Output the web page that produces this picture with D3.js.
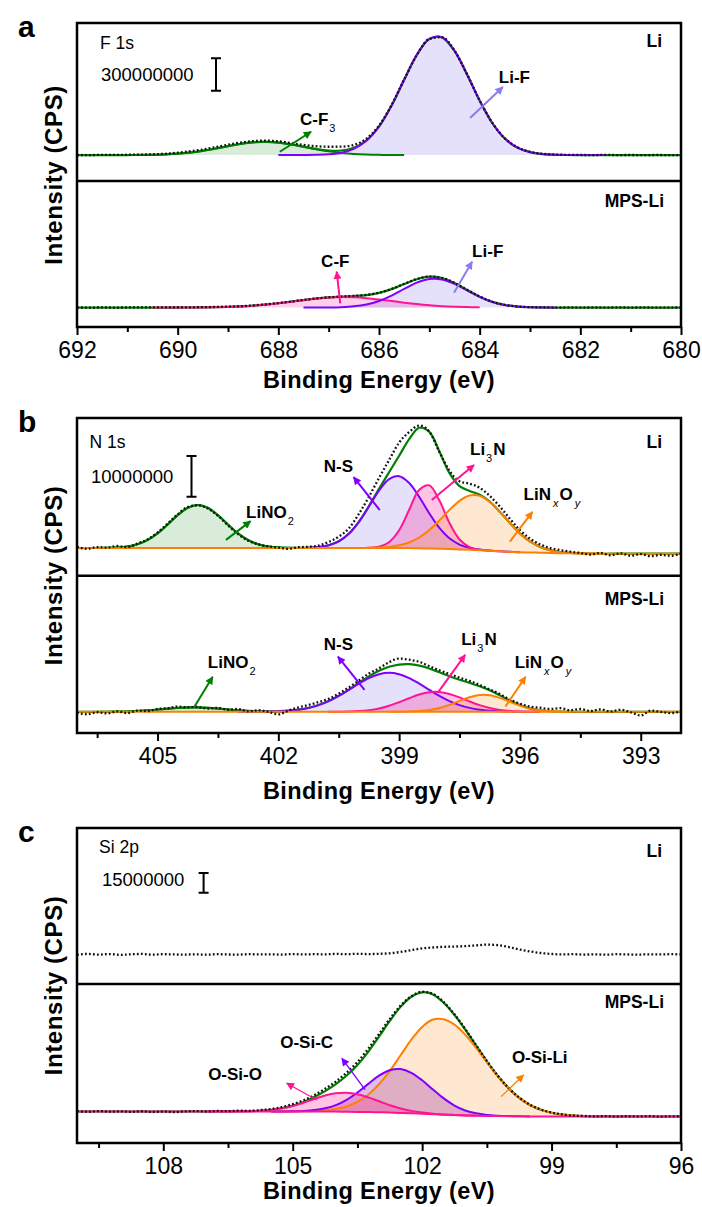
<!DOCTYPE html>
<html>
<head>
<meta charset="utf-8">
<title>XPS F 1s / N 1s / Si 2p</title>
<script src="https://cdnjs.cloudflare.com/ajax/libs/d3/7.8.5/d3.min.js"></script>
<style>
    body { margin: 0; background: #fff; }
    svg text { font-family: "Liberation Sans", Arial, sans-serif; fill: #000; }
</style>
</head>
<body>
<svg id="chart" width="702" height="1207"></svg>
<script>
/*=============== DATA (intensities in 10^6 CPS, energies in eV, 0.25 eV steps) ============*/

// energy grids, high -> low binding energy
var energyA = d3.range(692, 679.9, -0.25);
var energyB = d3.range(407, 391.9, -0.25);
var energyC = d3.range(110, 95.9, -0.25);

var ticksA = [692, 690, 688, 686, 684, 682, 680];
var minorTicksA = [691, 689, 687, 685, 683, 681];
var ticksB = [405, 402, 399, 396, 393];
var minorTicksB = [406.5, 403.5, 400.5, 397.5, 394.5];
var ticksC = [108, 105, 102, 99, 96];
var minorTicksC = [109.5, 106.5, 103.5, 100.5, 97.5];

// scale bars
var scaleBarA = 300;   // 300000000 CPS
var scaleBarB = 10;    // 10000000 CPS
var scaleBarC = 15;    // 15000000 CPS

// ---- F 1s, Li
var liBgA = 240;
var liDataA = [
    241, 240, 242, 241,
    243, 244, 247, 252,
    262, 276, 292, 313,
    336, 356, 370, 374,
    368, 352, 334, 322,
    317, 318, 334, 392,
    513, 704, 940, 1165,
    1315, 1332, 1208, 988,
    746, 540, 395, 312,
    270, 252, 245, 242,
    241, 240, 242, 240,
    241, 240, 241, 240,
    240
];
var cf3LiA = [0.4, 1.1, 2.8, 6.2, 12.7, 23.4, 39.2, 59.7, 82.6, 103.8, 118.5, 123, 115.8, 99.1, 77.1, 54.5, 34.9, 20.4, 10.8, 5.2, 2.3, 0.9, 0.3];   // from 691.0
var lifLiA = [0, 0.1, 0.6, 2.2, 7.4, 22.1, 57.7, 131.9, 263, 458.5, 697, 926.7, 1075.5, 1090, 965, 746, 504, 297, 153, 68.9, 27.1, 9.3, 2.8, 0.7, 0.2, 0, 0];   // from 688.0

// ---- F 1s, MPS-Li
var mpsBgA = 180;
var mpsDataA = [
    181, 180, 181, 180,
    181, 181, 182, 181,
    183, 182, 184, 186,
    189, 193, 200, 210,
    222, 236, 251, 264,
    275, 282, 288, 298,
    317, 352, 399, 444,
    467, 455, 409, 345,
    283, 234, 205, 190,
    184, 181, 180, 181,
    180, 181, 180, 181,
    180, 181, 180, 180,
    181
];
var cfMpsA = [0, 0.1, 0.3, 0.7, 1.6, 3.2, 6.1, 10.7, 17.7, 27.5, 40, 54.4, 69.4, 82.8, 92.5, 97, 95, 87.2, 75, 60.4, 45.6, 32.2, 21.3, 13.2, 7.7, 4.2, 2.1];   // from 690.5
var lifMpsA = [0.1, 0.3, 1.2, 3.9, 11.4, 28.4, 60.4, 110, 172, 230.5, 264.7, 260.7, 220, 159.2, 98.8, 52.5, 24, 9.3, 3.1, 0.9, 0.2];   // from 687.5

// ---- N 1s, Li
var liBgB = [
    6.8, 6.8, 6.8, 6.8,
    6.8, 6.8, 6.8, 6.8,
    6.8, 6.8, 6.8, 6.8,
    6.8, 6.8, 6.8, 6.8,
    6.8, 6.8, 6.8, 6.8,
    6.8, 6.8, 6.8, 6.8,
    6.8, 6.8, 6.8, 6.8,
    6.8, 6.8, 6.8, 6.8,
    6.8, 6.78, 6.74, 6.69,
    6.63, 6.55, 6.46, 6.37,
    6.27, 6.14, 6.0, 5.88,
    5.77, 5.71, 5.65, 5.59,
    5.53, 5.5, 5.47, 5.44,
    5.4, 5.4, 5.4, 5.4,
    5.4, 5.4, 5.4, 5.4,
    5.4
];
var liDataB = [
    7.1, 6.6, 7.0, 6.9,
    7.3, 7.0, 7.9, 8.9,
    10.6, 12.8, 15.1, 16.9,
    17.3, 16.5, 14.7, 12.4,
    10.2, 8.6, 7.7, 7.2,
    6.9, 6.6, 7.0, 7.1,
    7.4, 8.3, 9.6, 11.6,
    15.2, 19.4, 24.0, 28.4,
    32.7, 35.3, 36.9, 35.4,
    30.4, 25.8, 23.2, 22.6,
    21.6, 19.6, 17.0, 14.0,
    11.2, 9.1, 7.7, 6.8,
    6.3, 5.9, 5.6, 5.2,
    5.6, 5.0, 5.5, 4.9,
    5.3, 4.8, 5.1, 4.9,
    5.4
];
var lino2LiB = [0.01, 0.04, 0.14, 0.38, 0.92, 1.95, 3.58, 5.75, 8.06, 9.88, 10.57, 9.88, 8.06, 5.75, 3.58, 1.95, 0.92, 0.38, 0.14, 0.04, 0.01];   // from 406.5
var nsLiB = [0, 0.01, 0.02, 0.08, 0.25, 0.69, 1.66, 3.5, 6.41, 10.2, 14.08, 16.91, 17.64, 15.99, 12.59, 8.61, 5.12, 2.64, 1.19, 0.46, 0.16, 0.05, 0.01, 0, 0];   // from 402.0
var li3nLiB = [0.01, 0.05, 0.33, 1.43, 4.36, 9.41, 14.37, 15.51, 11.83, 6.38, 2.43, 0.66, 0.13, 0.02, 0];   // from 400.0
var linoLiB = [0.01, 0.04, 0.11, 0.28, 0.66, 1.39, 2.65, 4.53, 6.96, 9.62, 11.94, 13.32, 13.34, 12.01, 9.72, 7.07, 4.62, 2.71, 1.43, 0.68, 0.29, 0.11, 0.04, 0.01, 0];   // from 400.0

// ---- N 1s, MPS-Li
var mpsBgB = 5.2;
var mpsDataB = [
    5.0, 4.6, 5.1, 4.8,
    5.3, 4.9, 5.5, 5.4,
    5.9, 6.1, 6.5, 6.3,
    6.4, 6.0, 6.2, 5.7,
    5.9, 5.3, 5.6, 5.2,
    4.6, 5.5, 6.3, 6.9,
    7.6, 8.4, 9.7, 11.2,
    12.9, 14.6, 15.9, 17.4,
    18.3, 18.0, 17.5, 16.4,
    15.4, 14.5, 13.6, 12.8,
    11.8, 10.7, 9.6, 8.2,
    7.2, 6.5, 6.2, 5.9,
    6.1, 5.6, 5.9, 5.4,
    5.8, 5.3, 5.7, 5.1,
    4.3, 5.5, 5.2, 4.9,
    5.3
];
var lino2MpsB = [0.01, 0.02, 0.05, 0.11, 0.21, 0.35, 0.55, 0.77, 0.96, 1.08, 1.09, 0.99, 0.81, 0.59, 0.39, 0.23, 0.12, 0.06, 0.03, 0.01];   // from 406.5
var nsMpsB = [0, 0.01, 0.02, 0.06, 0.13, 0.27, 0.53, 0.97, 1.66, 2.64, 3.91, 5.4, 6.94, 8.3, 9.24, 9.58, 9.24, 8.3, 6.94, 5.4, 3.91, 2.64, 1.66, 0.97, 0.53, 0.27, 0.13, 0.06, 0.02, 0.01, 0];   // from 403.0
var li3nMpsB = [0.01, 0.03, 0.07, 0.19, 0.42, 0.83, 1.48, 2.36, 3.35, 4.25, 4.81, 4.87, 4.39, 3.54, 2.55, 1.64, 0.94, 0.48, 0.22, 0.09, 0.03, 0.01];   // from 400.75
var linoMpsB = [0, 0.02, 0.06, 0.18, 0.44, 0.94, 1.71, 2.68, 3.59, 4.13, 4.07, 3.43, 2.48, 1.54, 0.82, 0.37, 0.15, 0.05, 0.01];   // from 399.25

// ---- Si 2p, Li (measured only)
var liDataC = [
    22.3, 22.9, 22.4, 22.8,
    22.2, 22.6, 22.9, 22.3,
    22.7, 22.5, 22.4, 22.6,
    22.3, 22.7, 22.5, 22.4,
    22.7, 22.5, 22.6, 22.4,
    22.8, 22.5, 22.7, 22.6,
    22.9, 22.7, 23.0, 22.8,
    23.0, 23.4, 24.4, 25.8,
    27.1, 27.8, 28.3, 28.5,
    28.9, 29.4, 30.0, 29.6,
    28.2, 26.3, 24.8, 23.6,
    22.9, 22.5, 22.7, 22.4,
    22.6, 22.3, 22.7, 22.5,
    22.4, 22.6, 22.5, 22.7,
    22.5
];

// ---- Si 2p, MPS-Li
var mpsBgC = [
    24, 24, 24, 24,
    24, 24, 24, 24,
    24, 24, 24, 24,
    24, 24, 24, 24,
    24, 24, 24, 24,
    24, 24, 24, 24,
    23.9, 23.8, 23.7, 23.55,
    23.4, 23.15, 22.9, 22.6,
    22.3, 21.95, 21.6, 21.3,
    21.0, 20.8, 20.6, 20.5,
    20.4, 20.3, 20.2, 20.2,
    20.2, 20.2, 20.2, 20.2,
    20.2, 20.2, 20.2, 20.2,
    20.2, 20.2, 20.2, 20.2,
    20.2
];
var mpsDataC = [
    24.2, 23.8, 24.3, 23.9,
    24.1, 23.7, 24.2, 23.6,
    24.0, 23.5, 24.1, 24.3,
    24.0, 24.4, 24.2, 24.6,
    24.5, 25.1, 25.9, 27.4,
    29.6, 32.6, 36.4, 41.3,
    46.8, 53.6, 61.7, 71.7,
    83.0, 94.5, 104.6, 111.8,
    115.2, 113.6, 107.3, 98.0,
    86.8, 74.6, 62.5, 51.4,
    42.0, 34.6, 29.2, 25.5,
    23.2, 21.8, 20.8, 20.6,
    20.2, 20.5, 20.1, 20.4,
    20.2, 20.5, 20.1, 20.3,
    20.4
];
var osioMpsC = [0, 0.01, 0.03, 0.09, 0.23, 0.56, 1.22, 2.4, 4.23, 6.7, 9.53, 12.19, 14.01, 14.47, 13.42, 11.19, 8.38, 5.65, 3.41, 1.86, 0.91, 0.4, 0.16, 0.06, 0.02, 0.01];   // from 107.0
var osicMpsC = [0.01, 0.05, 0.15, 0.42, 1.07, 2.45, 4.99, 9.1, 14.8, 21.5, 27.89, 32.31, 33.43, 30.88, 25.47, 18.77, 12.35, 7.25, 3.8, 1.78, 0.75, 0.28, 0.09, 0.03, 0.01];   // from 105.5
var osiliMpsC = [0.01, 0.02, 0.05, 0.15, 0.37, 0.88, 1.95, 4.0, 7.54, 13.2, 21.32, 31.83, 43.93, 56.05, 66.1, 72.07, 72.7, 68.9, 61.47, 51.63, 40.83, 30.41, 21.32, 14.07, 8.75, 5.12, 2.82, 1.46, 0.72, 0.33, 0.15, 0.06, 0.02, 0.01];   // from 105.5


/*=============== STYLE ============*/

var STEP = 0.25;
var frameLeft = 77;
var frameRight = 681;

var colors = {
    green: '#008000',
    purple: '#8000ff',
    pink: '#ff1493',
    orange: '#ff8000',
    lilac: '#8a7cf0'
};

var fills = {
    green: 'rgba(0,128,0,0.15)',
    purple: 'rgba(110,90,230,0.18)',
    pink: 'rgba(255,20,147,0.2)',
    orange: 'rgba(255,128,0,0.18)',
    mauve: 'rgba(150,40,170,0.3)',
    rose: 'rgba(255,20,147,0.25)'
};

// label pieces
var LBL_CF3 = [{t: 'C-F'}, {t: '3', sub: true}];
var LBL_LIF = [{t: 'Li-F'}];
var LBL_CF = [{t: 'C-F'}];
var LBL_NS = [{t: 'N-S'}];
var LBL_LI3N = [{t: 'Li'}, {t: '3', sub: true}, {t: 'N'}];
var LBL_LINO = [{t: 'LiN'}, {t: 'x', sub: true, it: true}, {t: 'O'}, {t: 'y', sub: true, it: true}];
var LBL_LINO2 = [{t: 'LiNO'}, {t: '2', sub: true}];


/*=============== PANELS ============*/

var panels = [
    {
        letter: 'a', core: 'F 1s', coreX: 100, coreDy: 26,
        top: 23, mid: 181, bottom: 327, unitPx: 0.108, titleY: 388,
        energy: energyA, ticks: ticksA, minor: minorTicksA,
        bar: {value: scaleBarA, text: '300000000', x: 216, bottomDy: 67.7, textX: 101, textDy: 58},
        liDy: 24, mpsDy: 26,
        subs: [
            {
                data: liDataA, bg: liBgA, bgColor: null,
                comps: [
                    {start: 691, values: cf3LiA, color: 'green'},
                    {start: 688, values: lifLiA, color: 'purple'}
                ],
                notes: [
                    {label: LBL_CF3, at: [687.57, 518], from: [687.97, 271], to: [687.35, 456], color: 'green'},
                    {label: LBL_LIF, at: [683.62, 907], from: [684.19, 583], to: [683.54, 870], color: 'lilac'}
                ]
            },
            {
                data: mpsDataA, bg: mpsBgA, bgColor: null,
                comps: [
                    {start: 690.5, values: cfMpsA, color: 'pink'},
                    {start: 687.5, values: lifMpsA, color: 'purple'}
                ],
                notes: [
                    {label: LBL_CF, at: [687.15, 556], from: [686.77, 219], to: [686.84, 512], color: 'pink'},
                    {label: LBL_LIF, at: [684.15, 648], from: [684.51, 318], to: [684.15, 605], color: 'lilac'}
                ]
            }
        ]
    },
    {
        letter: 'b', core: 'N 1s', coreX: 89.5, coreDy: 30,
        top: 418, mid: 575.7, bottom: 733, unitPx: 4.07, titleY: 799,
        energy: energyB, ticks: ticksB, minor: minorTicksB,
        bar: {value: scaleBarB, text: '10000000', x: 191.5, bottomDy: 78.7, textX: 91, textDy: 65},
        liDy: 30, mpsDy: 29.3,
        subs: [
            {
                data: liDataB, bg: liBgB, bgColor: 'orange',
                comps: [
                    {start: 406.5, values: lino2LiB, color: 'green'},
                    {start: 402, values: nsLiB, color: 'purple'},
                    {start: 400, values: li3nLiB, color: 'pink', fill: 'rose'},
                    {start: 400, values: linoLiB, color: 'orange'}
                ],
                notes: [
                    {label: LBL_NS, at: [400.87, 25.5], from: [399.48, 16.1], to: [400.13, 24.2], color: 'purple'},
                    {label: LBL_LI3N, at: [397.24, 29.7], from: [398.19, 18.6], to: [397.14, 27.2], color: 'pink'},
                    {label: LBL_LINO, at: [395.91, 18.6], from: [396.25, 8.35], to: [395.69, 15.7], color: 'orange'},
                    {label: LBL_LINO2, at: [402.8, 14.2], from: [403.3, 8.8], to: [402.69, 13.4], color: 'green'}
                ]
            },
            {
                data: mpsDataB, bg: mpsBgB, bgColor: 'orange',
                comps: [
                    {start: 406.5, values: lino2MpsB, color: 'green'},
                    {start: 403, values: nsMpsB, color: 'purple'},
                    {start: 400.75, values: li3nMpsB, color: 'pink', fill: 'rose'},
                    {start: 399.25, values: linoMpsB, color: 'orange'}
                ],
                notes: [
                    {label: LBL_NS, at: [400.87, 20.4], from: [399.86, 10.6], to: [400.52, 18.75], color: 'purple'},
                    {label: LBL_LI3N, at: [397.46, 21.6], from: [398.02, 10.15], to: [397.36, 19.2], color: 'pink'},
                    {label: LBL_LINO, at: [396.13, 16.0], from: [396.36, 6.5], to: [395.86, 13.8], color: 'orange'},
                    {label: LBL_LINO2, at: [403.75, 16.0], from: [404.08, 6.5], to: [403.63, 13.8], color: 'green'}
                ]
            }
        ]
    },
    {
        letter: 'c', core: 'Si 2p', coreX: 99, coreDy: 25,
        top: 828, mid: 984, bottom: 1143, unitPx: 1.313, titleY: 1199,
        energy: energyC, ticks: ticksC, minor: minorTicksC,
        bar: {value: scaleBarC, text: '15000000', x: 203.6, bottomDy: 64.7, textX: 102, textDy: 58},
        liDy: 29, mpsDy: 24,
        subs: [
            {data: liDataC, bg: 22.5, bgColor: null, comps: [], notes: []},
            {
                data: mpsDataC, bg: mpsBgC, bgColor: 'pink',
                comps: [
                    {start: 105.5, values: osiliMpsC, color: 'orange'},
                    {start: 105.5, values: osicMpsC, color: 'purple', fill: 'mauve'},
                    {start: 107, values: osioMpsC, color: 'pink', fill: 'rose'}
                ],
                notes: [
                    {label: [{t: 'O-Si-C'}], at: [105.29, 72.4], from: [103.32, 40.4], to: [103.86, 64.5], color: 'purple', thin: true},
                    {label: [{t: 'O-Si-O'}], at: [106.96, 48.0], from: [104.44, 32.75], to: [105.14, 45.5], color: 'pink', thin: true},
                    {label: [{t: 'O-Si-Li'}], at: [99.92, 60.9], from: [100.17, 35.3], to: [99.65, 51.8], color: 'orange', thin: true}
                ]
            }
        ]
    }
];


/*=============== RENDER ============*/

var svg = d3.select('#chart');
var defs = svg.append('defs');

Object.keys(colors).forEach(function (key) {
    defs.append('marker')
        .attr('id', 'head-' + key)
        .attr('viewBox', '0 0 10 10')
        .attr('refX', 9)
        .attr('refY', 5)
        .attr('markerUnits', 'userSpaceOnUse')
        .attr('markerWidth', 9)
        .attr('markerHeight', 8)
        .attr('orient', 'auto')
        .append('path')
            .attr('d', 'M0,0L10,5L0,10z')
            .attr('fill', colors[key]);
});

var smooth = d3.curveCatmullRom.alpha(0.5);

var drawLabel = function (g, px, py, parts) {
    var text = g.append('text')
        .attr('x', px)
        .attr('y', py)
        .attr('font-size', 17)
        .attr('font-weight', 'bold');
    var lowered = false;
    parts.forEach(function (p) {
        var span = text.append('tspan').text(p.t);
        if (p.sub) {
            span.attr('font-size', 11).attr('font-weight', 'normal').attr('dx', p.it ? 2 : 1).attr('dy', lowered ? 0 : 7);
            lowered = true;
        } else if (lowered) {
            span.attr('dx', 1).attr('dy', -7);
            lowered = false;
        }
        if (p.it) {
            span.attr('font-style', 'italic');
        }
    });
};

var drawSub = function (p, sub, x, y, subTop, subBottom, clipId) {

    var energy = p.energy;
    var bgAt = function (i) {
        return Array.isArray(sub.bg) ? sub.bg[i] : sub.bg;
    };

    defs.append('clipPath').attr('id', clipId)
        .append('rect')
            .attr('x', frameLeft)
            .attr('y', subTop)
            .attr('width', frameRight - frameLeft)
            .attr('height', subBottom - subTop);

    var g = svg.append('g').attr('clip-path', 'url(#' + clipId + ')');

    // components on top of the background, plus their sum (the fit envelope)
    var envelope = energy.map(function () { return 0; });
    var compPoints = sub.comps.map(function (c) {
        var offset = Math.round((energy[0] - c.start) / STEP);
        return c.values.map(function (v, j) {
            envelope[offset + j] += v;
            return {e: energy[offset + j], b: bgAt(offset + j), v: bgAt(offset + j) + v};
        });
    });

    var area = d3.area()
        .x(function (d) { return x(d.e); })
        .y0(function (d) { return y(d.b); })
        .y1(function (d) { return y(d.v); })
        .curve(smooth);

    var line = d3.line()
        .x(function (d) { return x(d.e); })
        .y(function (d) { return y(d.v); })
        .curve(smooth);

    sub.comps.forEach(function (c, k) {
        g.append('path')
            .attr('d', area(compPoints[k]))
            .attr('fill', fills[c.fill || c.color])
            .attr('stroke', 'none');
    });

    if (sub.comps.length) {
        var envPoints = energy.map(function (e, i) {
            return {e: e, v: bgAt(i) + envelope[i]};
        });
        g.append('path')
            .attr('d', line(envPoints))
            .attr('fill', 'none')
            .attr('stroke', colors.green)
            .attr('stroke-width', 2.2);
    }

    sub.comps.forEach(function (c, k) {
        g.append('path')
            .attr('d', line(compPoints[k]))
            .attr('fill', 'none')
            .attr('stroke', colors[c.color])
            .attr('stroke-width', 2);
    });

    if (sub.bgColor) {
        g.append('path')
            .attr('d', line(energy.map(function (e, i) { return {e: e, v: bgAt(i)}; })))
            .attr('fill', 'none')
            .attr('stroke', colors[sub.bgColor])
            .attr('stroke-width', 2);
    }

    // measured spectrum, drawn as a dotted trace
    g.append('path')
        .attr('d', d3.line()
            .x(function (d) { return x(d.e); })
            .y(function (d) { return y(d.v); })
            .curve(d3.curveMonotoneX)(energy.map(function (e, i) { return {e: e, v: sub.data[i]}; })))
        .attr('fill', 'none')
        .attr('stroke', '#111')
        .attr('stroke-width', 2.3)
        .attr('stroke-dasharray', '1.8 2.2');

    // peak labels and arrows
    sub.notes.forEach(function (n) {
        svg.append('line')
            .attr('x1', x(n.from[0]))
            .attr('y1', y(n.from[1]))
            .attr('x2', x(n.to[0]))
            .attr('y2', y(n.to[1]))
            .attr('stroke', colors[n.color])
            .attr('stroke-width', n.thin ? 1.3 : 2)
            .attr('marker-end', 'url(#head-' + n.color + ')');
        drawLabel(svg, x(n.at[0]), y(n.at[1]), n.label);
    });
};

panels.forEach(function (p, pi) {

    var x = d3.scaleLinear().domain([p.energy[0], p.energy[p.energy.length - 1]]).range([frameLeft, frameRight]);

    var bounds = [[p.top, p.mid], [p.mid, p.bottom]];

    p.subs.forEach(function (sub, si) {
        var subTop = bounds[si][0];
        var subBottom = bounds[si][1];
        var y = d3.scaleLinear()
            .domain([0, (subBottom - subTop) / p.unitPx])
            .range([subBottom, subTop]);
        drawSub(p, sub, x, y, subTop, subBottom, 'clip-' + pi + '-' + si);

        // scale bar lives in the upper (Li) plot
        if (si === 0) {
            var b = p.bar;
            var y0 = p.top + b.bottomDy;
            var y1 = y0 - (y(0) - y(b.value));
            svg.append('path')
                .attr('d', 'M' + b.x + ',' + y0 + 'V' + y1 +
                    'M' + (b.x - 5) + ',' + y0 + 'H' + (b.x + 5) +
                    'M' + (b.x - 5) + ',' + y1 + 'H' + (b.x + 5))
                .attr('stroke', '#000')
                .attr('stroke-width', 2)
                .attr('fill', 'none');
            svg.append('text')
                .attr('x', b.textX)
                .attr('y', p.top + b.textDy)
                .attr('font-size', 18.5)
                .text(b.text);
        }
    });

    // frame and separator
    svg.append('rect')
        .attr('x', frameLeft)
        .attr('y', p.top)
        .attr('width', frameRight - frameLeft)
        .attr('height', p.bottom - p.top)
        .attr('fill', 'none')
        .attr('stroke', '#000')
        .attr('stroke-width', 2.5);
    svg.append('line')
        .attr('x1', frameLeft)
        .attr('x2', frameRight)
        .attr('y1', p.mid)
        .attr('y2', p.mid)
        .attr('stroke', '#000')
        .attr('stroke-width', 2.5);

    // x axis
    var major = svg.append('g')
        .attr('transform', 'translate(0,' + p.bottom + ')')
        .call(d3.axisBottom(x).tickValues(p.ticks).tickSize(8).tickPadding(7).tickFormat(d3.format('d')));
    var minor = svg.append('g')
        .attr('transform', 'translate(0,' + p.bottom + ')')
        .call(d3.axisBottom(x).tickValues(p.minor).tickSize(5).tickFormat(''));
    [major, minor].forEach(function (ax) {
        ax.select('.domain').remove();
        ax.selectAll('line').attr('stroke', '#000').attr('stroke-width', 2);
    });
    major.selectAll('text').attr('font-size', 23).attr('fill', '#000');

    svg.append('text')
        .attr('x', (frameLeft + frameRight) / 2)
        .attr('y', p.titleY)
        .attr('text-anchor', 'middle')
        .attr('font-size', 23.5)
        .attr('font-weight', 'bold')
        .attr('letter-spacing', 0.4)
        .text('Binding Energy (eV)');

    svg.append('text')
        .attr('transform', 'translate(62,' + ((p.top + p.bottom) / 2) + ') rotate(-90)')
        .attr('text-anchor', 'middle')
        .attr('font-size', 24)
        .attr('font-weight', 'bold')
        .attr('letter-spacing', 0.6)
        .text('Intensity (CPS)');

    // panel letter, core level, sample names
    svg.append('text')
        .attr('x', 18)
        .attr('y', p.top + 14)
        .attr('font-size', 30)
        .attr('font-weight', 'bold')
        .text(p.letter);
    svg.append('text')
        .attr('x', p.coreX)
        .attr('y', p.top + p.coreDy)
        .attr('font-size', 17.5)
        .text(p.core);
    svg.append('text')
        .attr('x', 662)
        .attr('y', p.top + p.liDy)
        .attr('text-anchor', 'end')
        .attr('font-size', 17.5)
        .attr('font-weight', 'bold')
        .text('Li');
    svg.append('text')
        .attr('x', 664)
        .attr('y', p.mid + p.mpsDy)
        .attr('text-anchor', 'end')
        .attr('font-size', 17.5)
        .attr('font-weight', 'bold')
        .text('MPS-Li');
});
</script>
</body>
</html>
